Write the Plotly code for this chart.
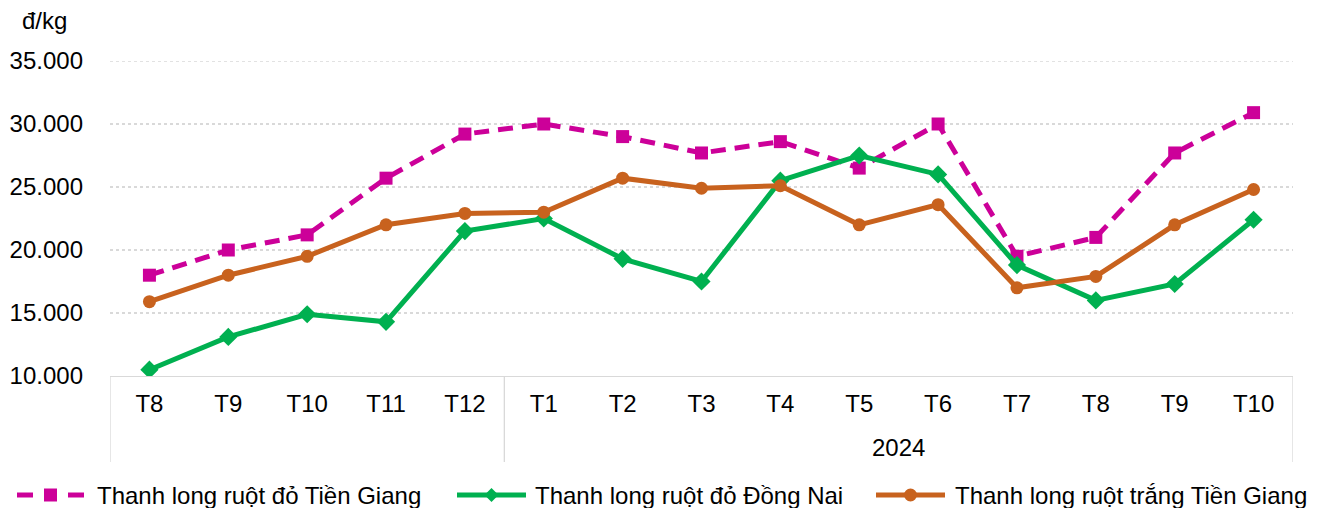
import plotly.graph_objects as go

months = ["T8", "T9", "T10", "T11", "T12", "T1", "T2", "T3", "T4", "T5", "T6", "T7", "T8", "T9", "T10"]
year_groups = ["", "2024"]
group_sizes = [5, 10]

red_tien_giang = [18000, 20000, 21200, 25700, 29200, 30000, 29000, 27700, 28600, 26500, 30000, 19500, 21000, 27700, 30900]
red_dong_nai = [10500, 13100, 14900, 14300, 21500, 22500, 19300, 17500, 25500, 27500, 26000, 18800, 16000, 17300, 22400]
white_tien_giang = [15900, 18000, 19500, 22000, 22900, 23000, 25700, 24900, 25100, 22000, 23600, 17000, 17900, 22000, 24800]

y_ticks = [10000, 15000, 20000, 25000, 30000, 35000]
y_ticktext = ["10.000", "15.000", "20.000", "25.000", "30.000", "35.000"]

names = ["Thanh long ruột đỏ Tiền Giang", "Thanh long ruột đỏ Đồng Nai", "Thanh long ruột trắng Tiền Giang"]
colors = ["#CC0099", "#00B050", "#C8621E"]
symbols = ["square", "diamond", "circle"]
dashes = ["15px,9px", "solid", "solid"]
series = [red_tien_giang, red_dong_nai, white_tien_giang]

FONT = "Liberation Sans, Arial, sans-serif"
FS = 24
LW = 5
OFF = 8  # page body margin
W, H = 1318 - OFF, 508 - OFF
L, T = 110 - OFF, 61 - OFF
R = W - (1293 - OFF)
B = H - (376 - OFF)
PW, PH = W - L - R, H - T - B


def px_x(px):
    return (px - OFF - L) / PW


def px_y(py):
    return (H - B - (py - OFF)) / PH


x = list(range(len(months)))

fig = go.Figure()
for nm, ys, c, sym, d in zip(names, series, colors, symbols, dashes):
    fig.add_trace(go.Scatter(x=x, y=ys, name=nm, mode="lines+markers",
                             line=dict(color=c, width=LW, dash=d),
                             marker=dict(symbol=sym, size=13 if sym != "diamond" else 14, color=c),
                             showlegend=False))

grid_col = "#D9D9D9"
fig.add_shape(type="line", xref="paper", yref="y", x0=0, x1=1, y0=y_ticks[-1], y1=y_ticks[-1],
              line=dict(color=grid_col, width=1.5, dash="dot"), layer="below")

bounds = [-0.5]
acc = -0.5
for s in group_sizes:
    acc += s
    bounds.append(acc)
for b in bounds:
    fig.add_shape(type="line", xref="x", yref="paper", x0=b, x1=b, y0=0, y1=px_y(462),
                  line=dict(color=grid_col, width=1.3))
start = 0
for g, s in zip(year_groups, group_sizes):
    if g:
        fig.add_annotation(x=start + (s - 1) / 2, y=px_y(447), xref="x", yref="paper", text=g,
                           showarrow=False, yanchor="middle",
                           font=dict(size=FS, color="#000000", family=FONT))
    start += s

fig.add_annotation(x=px_x(44), y=px_y(20), xref="paper", yref="paper", text="đ/kg", showarrow=False,
                   xanchor="center", yanchor="middle", font=dict(size=FS, color="#000000", family=FONT))

# manual legend
leg_y = 495
leg_items = [(17, 84, 95), (457, 526, 533), (876, 945, 953)]
for (x0, x1, tx), nm, c, sym, d in zip(leg_items, names, colors, symbols, dashes):
    yy = px_y(leg_y)
    if d != "solid":
        fig.add_shape(type="line", xref="paper", yref="paper", x0=px_x(x0), x1=px_x(x0 + 16), y0=yy, y1=yy,
                      line=dict(color=c, width=LW))
        fig.add_shape(type="line", xref="paper", yref="paper", x0=px_x(x1 - 16), x1=px_x(x1), y0=yy, y1=yy,
                      line=dict(color=c, width=LW))
    else:
        fig.add_shape(type="line", xref="paper", yref="paper", x0=px_x(x0), x1=px_x(x1), y0=yy, y1=yy,
                      line=dict(color=c, width=LW))
    cx = (x0 + x1) / 2
    r = 6.5
    if sym == "square":
        fig.add_shape(type="rect", xref="paper", yref="paper", x0=px_x(cx - r), x1=px_x(cx + r),
                      y0=px_y(leg_y + r), y1=px_y(leg_y - r), fillcolor=c, line=dict(width=0))
    elif sym == "circle":
        fig.add_shape(type="circle", xref="paper", yref="paper", x0=px_x(cx - r), x1=px_x(cx + r),
                      y0=px_y(leg_y + r), y1=px_y(leg_y - r), fillcolor=c, line=dict(width=0))
    else:
        rd = 7
        path = (f"M {px_x(cx - rd)} {px_y(leg_y)} L {px_x(cx)} {px_y(leg_y - rd)} "
                f"L {px_x(cx + rd)} {px_y(leg_y)} L {px_x(cx)} {px_y(leg_y + rd)} Z")
        fig.add_shape(type="path", xref="paper", yref="paper", path=path, fillcolor=c, line=dict(width=0))
    fig.add_annotation(x=px_x(tx), y=px_y(leg_y), xref="paper", yref="paper", text=nm, showarrow=False,
                       xanchor="left", yanchor="middle", font=dict(size=FS, color="#000000", family=FONT))

fig.update_layout(
    width=W, height=H,
    margin=dict(l=L, r=R, t=T, b=B, autoexpand=False),
    paper_bgcolor="white", plot_bgcolor="white",
    font=dict(family=FONT, size=FS, color="#000000"),
    showlegend=False,
    xaxis=dict(range=[-0.5, 14.5], tickvals=x, ticktext=months, showgrid=False, zeroline=False,
               showline=True, linecolor=grid_col, linewidth=1.3, ticks="", tickfont=dict(size=FS),
               ticklabelstandoff=6, tickangle=0),
    yaxis=dict(range=[10000, 35000], tickvals=y_ticks, ticktext=y_ticktext, showgrid=True,
               gridcolor=grid_col, griddash="dot", gridwidth=1.5, zeroline=False, showline=False,
               ticks="", tickfont=dict(size=FS), ticklabelstandoff=26),
)

fig.write_html("out.html")
